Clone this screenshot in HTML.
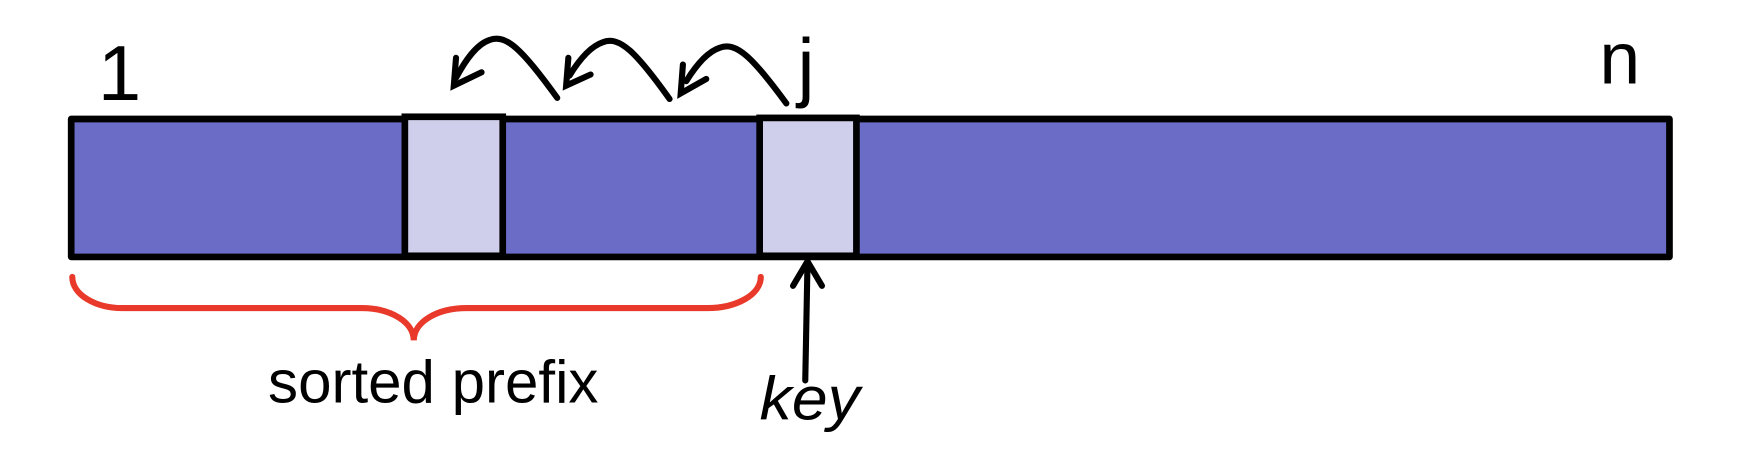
<!DOCTYPE html>
<html><head><meta charset="utf-8"><style>html,body{margin:0;padding:0;background:#fff}svg{display:block}</style></head>
<body>
<svg width="1744" height="458" viewBox="0 0 1744 458" xmlns="http://www.w3.org/2000/svg">
<g transform="scale(1.11224)">
<rect x="64" y="107" width="1437" height="124" fill="#6B6CC5" stroke="#000" stroke-width="6" stroke-linejoin="round"/>
<rect x="364" y="105" width="88" height="125" fill="#CFCFEC" stroke="#000" stroke-width="6"/>
<rect x="683" y="106" width="87" height="124" fill="#CFCFEC" stroke="#000" stroke-width="6"/>
<g fill="none" stroke="#000" stroke-width="5.5" stroke-linecap="round" stroke-linejoin="miter">
<path d="M501 88 C470 45 455 30 440 36 C428 40 418 55 410 70"/>
<path d="M410 52 L408 77 L433 65"/>
<path d="M602 89 C572 47 557 32 542 38 C530 42 520 55 512 68"/>
<path d="M511 52 L509 77 L531 67"/>
<path d="M707 93 C677 52 662 37 647 43 C635 47 625 60 617 73"/>
<path d="M614 58 L612 84 L635 71"/>
<path d="M724 342 L726 237"/>
<path d="M713 257 L726 235 L739 257"/>
</g>
<path d="M65 249 C65 265 86 277 110 277 L325 277 C352 277 372 290 372 306 C372 290 392 277 420 277 L636 277 C662 277 684 265 684 249" fill="none" stroke="#E8392A" stroke-width="5.5" stroke-linecap="round"/>
<g font-family="Liberation Sans, sans-serif" fill="#000">
<text x="88" y="90" font-size="70">1</text>
<text x="717" y="83" font-size="69">j</text>
<text x="1438" y="75" font-size="66">n</text>
<text x="241" y="362" font-size="54">sorted prefix</text>
<text x="683" y="377" font-size="55" font-style="italic" textLength="90" lengthAdjust="spacingAndGlyphs">key</text>
</g>
</g>
</svg>
</body></html>
